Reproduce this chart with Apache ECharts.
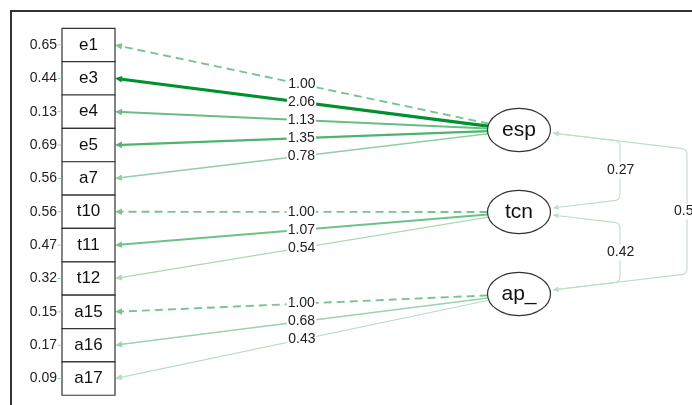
<!DOCTYPE html>
<html>
<head>
<meta charset="utf-8">
<script src="https://cdn.jsdelivr.net/npm/echarts@6/dist/echarts.min.js"></script>
<style>html,body{margin:0;padding:0;background:#fff}#c{width:692px;height:405px}</style>
</head>
<body>
<div id="c"></div>
<script>
// ---- data ----
const indicators = ['e1','e3','e4','e5','a7','t10','t11','t12','a15','a16','a17'];
const residuals = [0.65,0.44,0.13,0.69,0.56,0.56,0.47,0.32,0.15,0.17,0.09];
const latents = ['esp','tcn','ap_'];
const loadingFactor = [0,0,0,0,0,1,1,1,2,2,2];
const loadings = [1.00,2.06,1.13,1.35,0.78,1.00,1.07,0.54,1.00,0.68,0.43];
const fixedLoading = [true,false,false,false,false,true,false,false,true,false,false];
const covFrom = [0,1,0];
const covTo = [1,2,2];
const covValues = [0.27,0.42,0.5];
const covLabels = ['0.27','0.42','0.5'];

// ---- layout (pixel-like axis units) ----
const L = {
  boxLeft: 62, boxRight: 115, boxTop: 28.3, boxH: 33.36,
  latentX: 519, rx: 31.5, ry: 21.7, latentY: [130, 212, 294],
  resRight: 57, lanes: [620, 620, 687]
};
const FONT = '"Liberation Sans", Arial, sans-serif';
const TXT = '#222';
const maxLoad = Math.max(...loadings);
function green(a) {
  const r = Math.round(255 + (0 - 255) * a);
  const g = Math.round(255 + (145 - 255) * a);
  const b = Math.round(255 + (45 - 255) * a);
  return 'rgb(' + r + ',' + g + ',' + b + ')';
}
function indY(i) { return L.boxTop + (i + 0.5) * L.boxH; }

function arrowHead(pTip, pFrom, len, hw, color) {
  const dx = pTip[0] - pFrom[0], dy = pTip[1] - pFrom[1];
  const d = Math.sqrt(dx * dx + dy * dy) || 1;
  const ux = dx / d, uy = dy / d;
  const bx = pTip[0] - ux * len, by = pTip[1] - uy * len;
  return {
    base: [bx, by],
    el: { type: 'polygon', shape: { points: [pTip, [bx - uy * hw, by + ux * hw], [bx + uy * hw, by - ux * hw]] },
      style: { fill: color, stroke: null } }
  };
}

function renderLoading(params, api) {
  const i = params.dataIndex;
  const f = loadingFactor[i];
  const cx = L.latentX, cy = L.latentY[f];
  const tx = L.boxRight, ty = indY(i);
  const dx = tx - cx, dy = ty - cy;
  const t = 1 / Math.sqrt((dx / L.rx) ** 2 + (dy / L.ry) ** 2);
  const pS = api.coord([cx + dx * t, cy + dy * t]);
  const pT = api.coord([tx, ty]);
  const a = loadings[i] / maxLoad;
  const col = green(0.1 + 0.9 * a);
  const w = 0.6 + 2.6 * a;
  const ah = arrowHead(pT, pS, 7, 3.2, col);
  const mid = [(pS[0] + pT[0]) / 2, (pS[1] + pT[1]) / 2];
  return {
    type: 'group',
    children: [
      { type: 'line', shape: { x1: pS[0], y1: pS[1], x2: ah.base[0], y2: ah.base[1] },
        style: { stroke: col, lineWidth: w, lineDash: fixedLoading[i] ? [8, 5] : null } },
      ah.el,
      { type: 'text', z2: 50, x: mid[0], y: mid[1],
        style: { text: loadings[i].toFixed(2), font: '14px ' + FONT, fill: TXT,
          align: 'center', verticalAlign: 'middle', backgroundColor: '#fff', padding: [0, 1] } }
    ]
  };
}

function renderCov(params, api) {
  const k = params.dataIndex;
  const ex = L.latentX + L.rx + 2;
  const X = L.lanes[k];
  const ya = L.latentY[covFrom[k]] + 3;
  const yb = L.latentY[covTo[k]] - 4;
  const s = 0.12;
  const Ay = ya + s * (X - ex), By = yb - s * (X - ex);
  const pts = [[ex, ya], [X - 4, Ay - 0.5], [X - 1, Ay + 1.5], [X, Ay + 5], [X, By - 5], [X - 1, By - 1.5], [X - 4, By + 0.5], [ex, yb]].map(p => api.coord(p));
  const col = green(0.28);
  const h1 = arrowHead(pts[0], pts[1], 6, 2.6, col);
  const n = pts.length;
  const h2 = arrowHead(pts[n - 1], pts[n - 2], 6, 2.6, col);
  const line = pts.slice();
  line[0] = h1.base; line[n - 1] = h2.base;
  const lp = api.coord([X - 14, (Ay + By) / 2]);
  return {
    type: 'group',
    children: [
      { type: 'polyline', shape: { points: line }, style: { stroke: col, lineWidth: 1.1, fill: null } },
      h1.el, h2.el,
      { type: 'text', z2: 50, x: lp[0], y: lp[1],
        style: { text: covLabels[k], font: '14px ' + FONT, fill: TXT, align: 'left', verticalAlign: 'middle',
          backgroundColor: '#fff', padding: [1, 1] } }
    ]
  };
}

function renderIndicator(params, api) {
  const i = params.dataIndex;
  const p0 = api.coord([L.boxLeft, L.boxTop + i * L.boxH]);
  const p1 = api.coord([L.boxRight, L.boxTop + (i + 1) * L.boxH]);
  const pc = api.coord([(L.boxLeft + L.boxRight) / 2, indY(i)]);
  const pr = api.coord([L.resRight, indY(i)]);
  return {
    type: 'group',
    children: [
      { type: 'rect', shape: { x: p0[0], y: p0[1], width: p1[0] - p0[0], height: p1[1] - p0[1] },
        style: { fill: '#fff', stroke: '#333', lineWidth: 1.2 } },
      { type: 'text', x: pc[0], y: pc[1],
        style: { text: indicators[i], font: '17px ' + FONT, fill: '#111', align: 'center', verticalAlign: 'middle' } },
      { type: 'line', shape: { x1: pr[0] + 0.5, y1: pr[1], x2: p0[0] - 0.5, y2: pr[1] },
        style: { stroke: green(0.4), lineWidth: 1 } },
      { type: 'text', x: pr[0], y: pr[1],
        style: { text: residuals[i].toFixed(2), font: '14px ' + FONT, fill: TXT, align: 'right', verticalAlign: 'middle' } }
    ]
  };
}

function renderLatent(params, api) {
  const k = params.dataIndex;
  const c = api.coord([L.latentX, L.latentY[k]]);
  const e = api.coord([L.latentX + L.rx, L.latentY[k] + L.ry]);
  return {
    type: 'group',
    children: [
      { type: 'ellipse', shape: { cx: c[0], cy: c[1], rx: e[0] - c[0], ry: e[1] - c[1] },
        style: { fill: '#fff', stroke: '#333', lineWidth: 1.2 } },
      { type: 'text', x: c[0], y: c[1],
        style: { text: latents[k], font: '21px ' + FONT, fill: '#111', align: 'center', verticalAlign: 'middle' } }
    ]
  };
}

const chart = echarts.init(document.getElementById('c'), null, { renderer: 'canvas' });
chart.setOption({
  animation: false,
  backgroundColor: '#fff',
  grid: { left: 0, right: 0, top: 0, bottom: 0 },
  xAxis: { type: 'value', min: 0, max: 692, show: false },
  yAxis: { type: 'value', min: 0, max: 405, inverse: true, show: false },
  graphic: [{ type: 'polyline', shape: { points: [[11, 410], [11, 11], [700, 11]] },
    style: { stroke: '#333', lineWidth: 2, fill: null } }],
  series: [
    { type: 'custom', name: 'covariances', renderItem: renderCov, data: covValues.map((v, k) => [k, v]), z: 2 },
    { type: 'custom', name: 'loadings', renderItem: renderLoading, data: loadings.map((v, i) => [i, v]), z: 3 },
    { type: 'custom', name: 'indicators', renderItem: renderIndicator, data: residuals.map((v, i) => [i, v]), z: 4 },
    { type: 'custom', name: 'latents', renderItem: renderLatent, data: latents.map((n, k) => [k, k]), z: 4 }
  ]
});
</script>
</body>
</html>
